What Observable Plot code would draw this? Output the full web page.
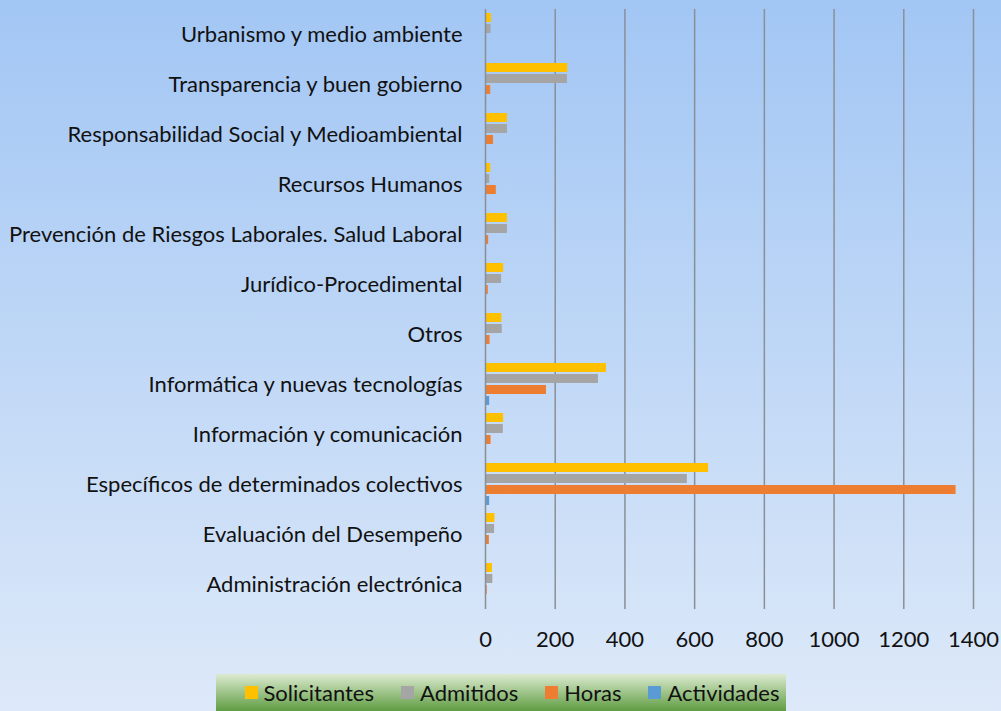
<!DOCTYPE html>
<html><head><meta charset="utf-8">
<script src="https://cdn.jsdelivr.net/npm/d3@7"></script>
<script src="https://cdn.jsdelivr.net/npm/@observablehq/plot@0.6"></script>
<style>
html,body{margin:0;padding:0;}
body{width:1001px;height:711px;overflow:hidden;background:linear-gradient(#a2c6f4,#dde9f9);font-family:Lato,sans-serif;position:relative;}
#chart{position:absolute;left:0;top:0;}
#legend{position:absolute;left:216px;top:674px;width:548px;padding-left:22px;height:37px;background:linear-gradient(#dcebd0,#5f9c42);display:flex;align-items:center;justify-content:center;gap:27px;font-size:22px;color:#111;}
.item{display:flex;align-items:center;gap:6px;}
.sw{width:13px;height:13px;display:inline-block;}
</style>
</head><body>
<div id="chart"></div>
<div id="legend"></div>
<script>
const categories = [
  "Urbanismo y medio ambiente",
  "Transparencia y buen gobierno",
  "Responsabilidad Social y Medioambiental",
  "Recursos Humanos",
  "Prevención de Riesgos Laborales. Salud Laboral",
  "Jurídico-Procedimental",
  "Otros",
  "Informática y nuevas tecnologías",
  "Información y comunicación",
  "Específicos de determinados colectivos",
  "Evaluación del Desempeño",
  "Administración electrónica"
];
const solicitantes = [17, 236, 63, 15, 63, 52, 47, 347, 52, 640, 27, 20];
const admitidos    = [16, 235, 63, 12, 63, 46, 48, 324, 51, 579, 26, 21];
const horas        = [3, 15, 23, 31, 9, 8, 13, 175, 16, 1350, 11, 5];
const actividades  = [1, 3, 1, 1, 2, 1, 1, 12, 1, 12, 1, 1];
const seriesNames = ["Solicitantes", "Admitidos", "Horas", "Actividades"];
const seriesColors = ["#FFC000", "#A5A5A5", "#ED7D31", "#5B9BD5"];
const xTicks = [0, 200, 400, 600, 800, 1000, 1200, 1400];

const seriesValues = [solicitantes, admitidos, horas, actividades];
const data = [];
categories.forEach((c, i) => {
  seriesNames.forEach((s, j) => data.push({cat: c, series: s, value: seriesValues[j][i]}));
});

const chart = Plot.plot({
  width: 1001, height: 660,
  marginLeft: 485, marginRight: 28, marginTop: 7, marginBottom: 50,
  style: {background: "transparent", fontFamily: "Lato, sans-serif", fontSize: "22px", color: "#111"},
  x: {domain: [0, 1400], ticks: xTicks, tickFormat: d => String(d), label: null, tickSize: 0, tickPadding: 22},
  y: {domain: seriesNames, axis: null, paddingInner: 0.19, paddingOuter: 0.355},
  fy: {domain: categories, padding: 0, label: null, axis: "left", tickSize: 0, tickPadding: 23},
  color: {domain: seriesNames, range: seriesColors},
  marks: [
    Plot.gridX(xTicks.slice(1), {stroke: "#8a8f96", strokeOpacity: 1, strokeWidth: 1.5}),
    Plot.barX(data, {fy: "cat", y: "series", x: "value", fill: "series"}),
    Plot.ruleX([0], {stroke: "#8a8f96", strokeWidth: 1.5})
  ]
});
document.getElementById("chart").appendChild(chart);

const legend = document.getElementById("legend");
seriesNames.forEach((s, i) => {
  const it = document.createElement("div");
  it.className = "item";
  it.innerHTML = `<span class="sw" style="background:${seriesColors[i]}"></span><span>${s}</span>`;
  legend.appendChild(it);
});
</script>
</body></html>
